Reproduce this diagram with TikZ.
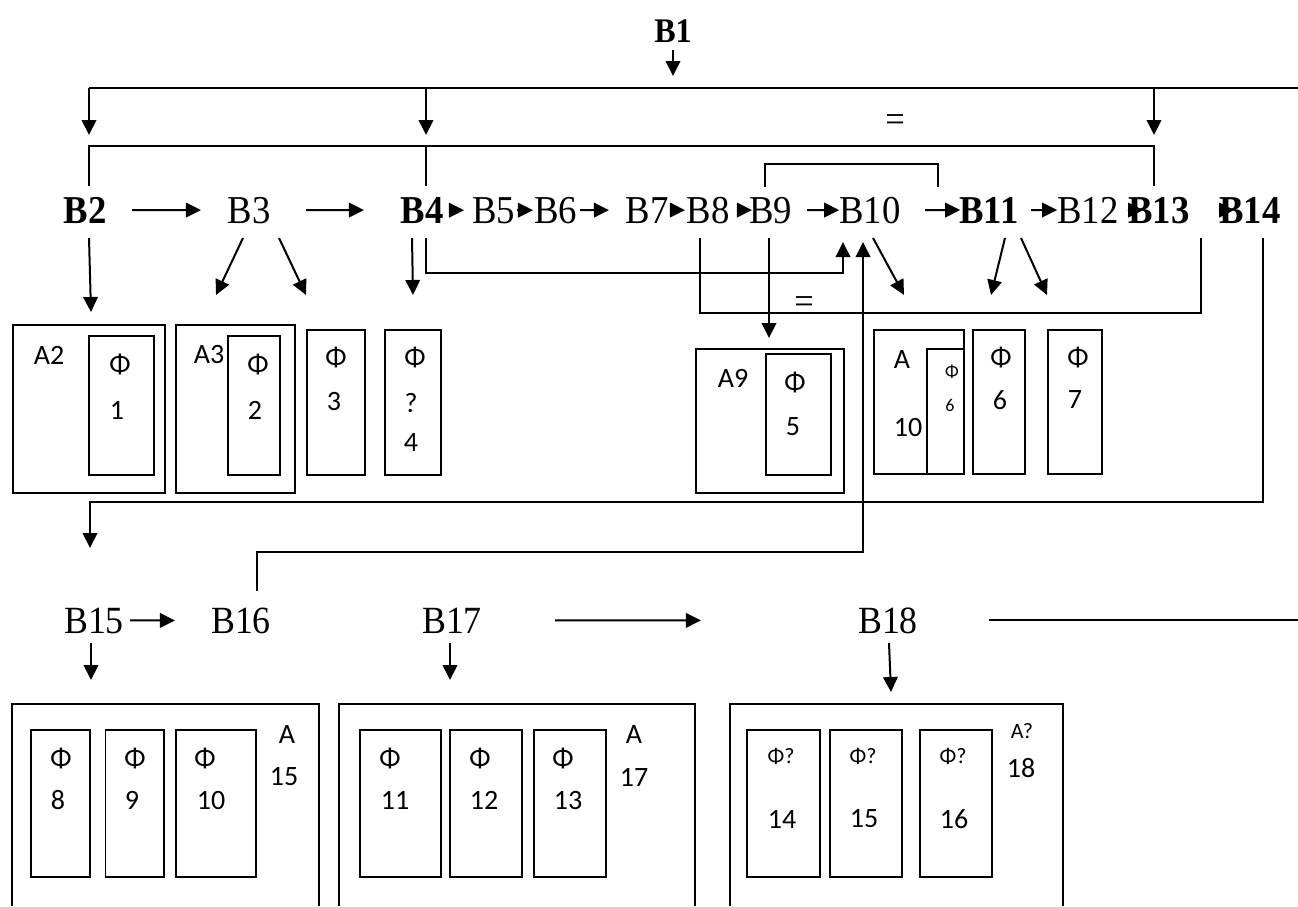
\documentclass[tikz,border=0pt]{standalone}
\usepackage{fontspec}
\setmainfont{Liberation Serif}[FakeStretch=0.93]
\newfontfamily\calfont{Carlito}
\usetikzlibrary{arrows.meta}
\tikzset{
  ln/.style={line width=2pt},
  arr/.style={line width=2pt,-{Triangle[length=15pt,width=14.5pt]}},
  bx/.style={draw,line width=1.6pt,inner sep=0pt},
  blab/.style={font=\fontsize{39.5}{39.5}\selectfont,inner sep=0pt,anchor=base},
  bblab/.style={font=\bfseries\fontsize{39.5}{39.5}\selectfont,inner sep=0pt,anchor=base},
  rlab/.style={font=\fontsize{38.5}{38.5}\selectfont,inner sep=0pt,anchor=base},
  flab/.style={font=\calfont\fontsize{28}{28}\selectfont,inner sep=0pt},
  slab/.style={font=\calfont\fontsize{22}{22}\selectfont,inner sep=0pt},
  tlab/.style={font=\calfont\fontsize{18}{18}\selectfont,inner sep=0pt},
  eqlab/.style={font=\fontsize{37}{37}\selectfont,inner sep=0pt},
}
\newcommand\mkbox[5]{\node[bx,anchor=north west,minimum width={(#4-#2)*1pt},minimum height={(#5-#3)*1pt}] (#1) at (#2,#3) {};}
\begin{document}
\begin{tikzpicture}[x=1pt,y=-1pt]
\useasboundingbox (0,0) rectangle (1298,906);
% ---------- top ----------
\node[bblab,font=\bfseries\fontsize{34.5}{34.5}\selectfont] (b1) at (673,42) {B1};
\coordinate (busL) at (89,88);
\coordinate (busR) at (1298,88);
\coordinate (brL) at (89,146);
\coordinate (brR) at (1154,146);
\draw[ln] (busL) -- (busR);
\draw[arr,shorten <=8pt,shorten >=12pt] (b1.south) -- (b1.south |- busL);
% ---------- row B ----------
\node[bblab] (b2) at (85,223) {B2};
\node[blab] (b3) at (249,223) {B3};
\node[bblab] (b4) at (422,223) {B4};
\node[blab] (b5) at (493.5,223) {B5};
\node[blab] (b6) at (555.5,223) {B6};
\node[blab] (b7) at (647,223) {B7};
\node[blab] (b8) at (708,223) {B8};
\node[blab] (b9) at (770.5,223) {B9};
\node[blab] (b10) at (870,223) {B10};
\node[bblab] (b11) at (989,223) {B11};
\node[blab] (b12) at (1088,223) {B12};
\node[bblab] (b13) at (1159,223) {B13};
\node[bblab] (b14) at (1250,223) {B14};
% bus arrows and bracket
\draw[arr,shorten >=11pt] (busL) -- (brL);
\draw[arr,shorten >=11pt] (426,88) -- (426,146);
\draw[arr,shorten >=11pt] (1154,88) -- (brR);
\draw[ln] ([shift={(4,-37)}]b2.base) |- (brR) -- ([shift={(-5,-37)}]b13.base);
\draw[ln] ([shift={(4,-37)}]b4.base) -- (426,146);
\node[eqlab] (eq1) at (895,123) {=};
\draw[ln] ([shift={(-5.5,-36)}]b9.base) |- (938,164) -- (938,187);
% row arrows
\draw[arr,shorten <=25.4pt,shorten >=26.4pt] (b2) -- (b3);
\draw[arr,shorten <=35.4pt,shorten >=36.4pt] (b3) -- (b4);
\draw[arr,shorten <=5.4pt,shorten >=7.9pt] (b4) -- (b5);
\draw[arr,shorten <=1.9pt,shorten >=0.9pt] (b5) -- (b6);
\draw[arr,shorten <=2.9pt,shorten >=16.4pt] (b6) -- (b7);
\draw[arr,shorten <=1.4pt,shorten >=1.4pt] (b7) -- (b8);
\draw[arr,shorten <=7.4pt,shorten >=-3.1pt] (b8) -- (b9);
\draw[arr,shorten <=14.9pt,shorten >=0pt] (b9) -- (b10);
\draw[arr,shorten <=24.2pt,shorten >=-1pt] (b10) -- (b11);
\draw[arr,shorten <=12.2pt,shorten >=0pt] (b11) -- (b12);
\draw[arr,shorten <=9pt,shorten >=-15pt] (b12) -- (b13);
\draw[arr,shorten <=29pt,shorten >=-15pt] (b13) -- (b14);
% ---------- boxes row 1 ----------
\mkbox{a2}{12}{324}{164}{492}
\mkbox{f1}{88}{335}{153}{474}
\mkbox{a3}{175}{324}{294}{492}
\mkbox{f2}{227}{335}{279}{474}
\mkbox{f3}{306}{329}{364}{474}
\mkbox{f4}{384}{329}{440}{474}
\mkbox{a9}{695}{348}{843}{492}
\mkbox{f5}{765}{353}{830}{474}
\mkbox{a10}{873}{329}{963}{473}
\mkbox{f6s}{926}{348}{963}{473}
\mkbox{f6}{972}{329}{1024}{473}
\mkbox{f7}{1047}{329}{1101}{473}
\node[flab] (la2) at (49,355) {A2};
\node[flab] (p1) at (120,365) {Φ};
\node[flab] (n1) at (117,410) {1};
\node[flab] (la3) at (209,355) {A3};
\node[flab] (p2) at (258,365) {Φ};
\node[flab] (n2) at (255,410) {2};
\node[flab] (p3) at (336,358) {Φ};
\node[flab] (n3) at (334,402) {3};
\node[flab] (p4) at (415,358) {Φ};
\node[flab] (q4) at (411,403) {?};
\node[flab] (n4) at (411,443) {4};
\node[flab] (la9) at (733,378) {A9};
\node[flab] (p5) at (795,383) {Φ};
\node[flab] (n5) at (793,427) {5};
\node[flab] (la10) at (902,360) {A};
\node[flab] (ln10) at (908,428) {10};
\node[tlab] (p6s) at (952,372) {Φ};
\node[tlab] (n6s) at (950,405) {6};
\node[flab] (p6) at (1001,358) {Φ};
\node[flab] (n6) at (1000,400) {6};
\node[flab] (p7) at (1078,358) {Φ};
\node[flab] (n7) at (1075,400) {7};
% ---------- connectors below row B ----------
\draw[arr] ([shift={(4,15)}]b2.base) -- ([shift={(3,-12)}]a2.north west -| 88,0);
\draw[arr] ([shift={(-6,15)}]b3.base) -- (216,295);
\draw[arr] ([shift={(30,15)}]b3.base) -- (306,295);
\draw[arr] ([shift={(-10,15)}]b4.base) -- ([yshift=34pt]f4.north -| 413,0);
\draw[arr] ([shift={(4,15)}]b4.base) |- (843,273) -- ([shift={(-27,19)}]b10.base);
\draw[ln] ([shift={(-8,15)}]b8.base) |- (1201,313) -- ([shift={(42,15)}]b13.base);
\node[eqlab] (eq2) at (804,305) {=};
\draw[arr] ([shift={(-1.5,15)}]b9.base) -- ([yshift=15pt]f5.north -| 769,0);
\draw[arr] ([shift={(3,15)}]b10.base) -- ([yshift=34pt]a10.north -| 904,0);
\draw[arr] ([shift={(16,15)}]b11.base) -- (991,295);
\draw[arr] ([shift={(32,15)}]b11.base) -- (1047,295);
\node[rlab] (b15) at (94,633) {B15};
\node[rlab] (b16) at (241,633) {B16};
\node[rlab] (b17) at (452,633) {B17};
\node[rlab] (b18) at (888,633) {B18};
\draw[arr] ([shift={(13,15)}]b14.base) |- (90,502) -- ([shift={(-4,-85)}]b15.base);
\draw[arr] ([shift={(16,-42)}]b16.base) |- (863,552) -- ([shift={(-7,19)}]b10.base);
% ---------- row 2 ----------
\coordinate (rr) at (1298,618);
\draw[arr,shorten <=6pt,shorten >=36pt] (b15) -- (b16);
\draw[arr,shorten <=73pt,shorten >=157pt] (b17) -- (b18);
\draw[ln,shorten <=71pt] (b18) -- (b18 -| rr);
\draw[arr] ([shift={(-3,10)}]b15.base) -- ([shift={(-3,47)}]b15.base);
\draw[arr] ([shift={(-2,10)}]b17.base) -- ([shift={(-2,47)}]b17.base);
\draw[arr] ([shift={(1,10)}]b18.base) -- ([shift={(3,59)}]b18.base);
% boxes row 2
\draw[bx] (12,906) |- (319,704) -- (319,906);
\draw[bx] (339,906) |- (695,704) -- (695,906);
\draw[bx] (730,906) |- (1063,704) -- (1063,906);
\mkbox{f8}{30}{729}{89}{876}
\mkbox{f9}{104.5}{729}{163}{876}
\mkbox{f10}{175}{729}{255}{876}
\mkbox{f11}{359}{729}{440}{876}
\mkbox{f12}{449}{729}{521}{876}
\mkbox{f13}{533}{729}{605}{876}
\mkbox{f14}{746}{729}{819}{876}
\mkbox{f15}{829}{729}{901}{876}
\mkbox{f16}{919}{729}{991}{876}
\node[flab] (p8) at (61,758) {Φ};
\node[flab] (n8) at (58,800) {8};
\node[flab] (p9) at (135,758) {Φ};
\node[flab] (n9) at (132,800) {9};
\node[flab] (p10) at (205,758) {Φ};
\node[flab] (n10) at (211,800) {10};
\node[flab] (la15) at (287,735) {A};
\node[flab] (ln15) at (284,777) {15};
\node[flab] (p11) at (390,758) {Φ};
\node[flab] (n11) at (395,800) {11};
\node[flab] (p12) at (480,758) {Φ};
\node[flab] (n12) at (484,800) {12};
\node[flab] (p13) at (563,758) {Φ};
\node[flab] (n13) at (568,800) {13};
\node[flab] (la17) at (634,735) {A};
\node[flab] (ln17) at (634,777) {17};
\node[slab] (p14) at (781,756) {Φ?};
\node[flab] (n14) at (782,819) {14};
\node[slab] (p15) at (863,756) {Φ?};
\node[flab] (n15) at (864,819) {15};
\node[slab] (p16) at (953,756) {Φ?};
\node[flab] (n16) at (954,819) {16};
\node[slab] (la18) at (1022,731) {A?};
\node[flab] (ln18) at (1021,768) {18};
\end{tikzpicture}
\end{document}
